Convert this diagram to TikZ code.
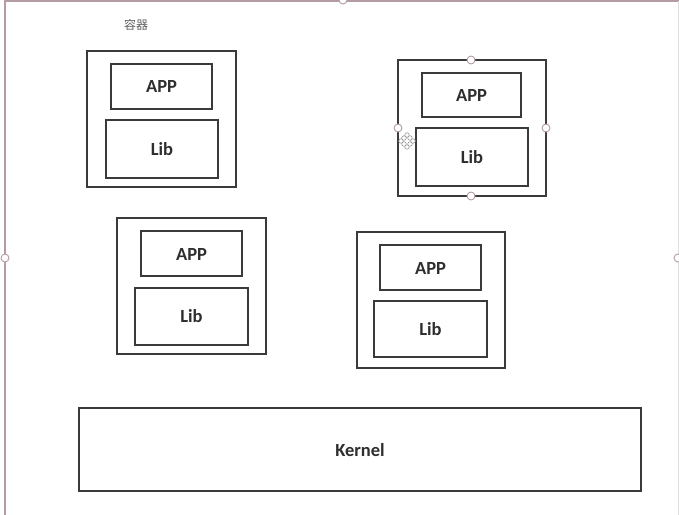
\documentclass[tikz,border=0pt]{standalone}
\usepackage{fontspec}
\setmainfont{Carlito}
\newfontfamily\cjk{Noto Sans CJK SC}
\definecolor{boxline}{HTML}{3A3A3A}
\definecolor{selline}{HTML}{B49CA4}
\definecolor{txt}{HTML}{2E2E2E}
\begin{document}
\begin{tikzpicture}[x=1pt,y=-1pt,
  box/.style={draw=boxline,line width=1.8pt,fill=white},
  lbl/.style={font=\fontsize{18.5}{22}\selectfont\bfseries,text=txt},
  handle/.style={circle,draw=selline,fill=white,line width=0.9pt,inner sep=0pt,minimum size=8pt},
  mv/.style={circle,draw=gray!80,fill=white,line width=0.6pt,inner sep=0pt,minimum size=4.5pt}]
\useasboundingbox (0,0) rectangle (679,514);
\fill[white] (0,0) rectangle (679,514);
% outer selection frame
\draw[selline,line width=1.5pt] (5,520) -- (5,1) -- (679,1);
\draw[gray!25,line width=1pt] (678,1) -- (678,520);
\node[handle] (hl) at (5,258) {};
\node[handle] (ht) at (343,0) {};
\node[handle] (hr) at (678,258) {};
% label
\node[text=gray!75!black,font=\cjk\fontsize{12}{14}\selectfont] (title) at (136,25) {容器};
% container 1
\draw[box] (87,51) rectangle (236,187);
\draw[box] (111,64) rectangle (212,109); \node[lbl] (app1) at (161.5,87) {APP};
\draw[box] (106,120) rectangle (218,178); \node[lbl] (lib1) at (162,149) {Lib};
% container 2
\draw[box] (398,60) rectangle (546,196);
\draw[box] (422,73) rectangle (521,117); \node[lbl] (app2) at (471.5,96) {APP};
\draw[box] (416,128) rectangle (528,186); \node[lbl] (lib2) at (472,157) {Lib};
\node[handle] (s1) at (471,60) {};
\node[handle] (s2) at (546,128) {};
\node[handle] (s3) at (471,196) {};
\node[handle] (s4) at (398,128) {};
% move cursor
\node[mv] (m1) at (407,135) {};
\node[mv] (m2) at (407,147) {};
\node[mv] (m3) at (401,141) {};
\node[mv] (m4) at (413,141) {};
\node[mv] (m5) at (404,138) {};
\node[mv] (m6) at (410,138) {};
\node[mv] (m7) at (404,144) {};
\node[mv] (m8) at (410,144) {};
% container 3
\draw[box] (117,218) rectangle (266,354);
\draw[box] (141,231) rectangle (242,276); \node[lbl] (app3) at (191.5,254) {APP};
\draw[box] (135,288) rectangle (248,345); \node[lbl] (lib3) at (191.5,316) {Lib};
% container 4
\draw[box] (357,232) rectangle (505,368);
\draw[box] (380,245) rectangle (481,290); \node[lbl] (app4) at (430.5,268) {APP};
\draw[box] (374,301) rectangle (487,357); \node[lbl] (lib4) at (430.5,329) {Lib};
% kernel
\draw[box] (79,408) rectangle (641,491);
\node[lbl] (kernel) at (360,450) {Kernel};
\end{tikzpicture}
\end{document}
